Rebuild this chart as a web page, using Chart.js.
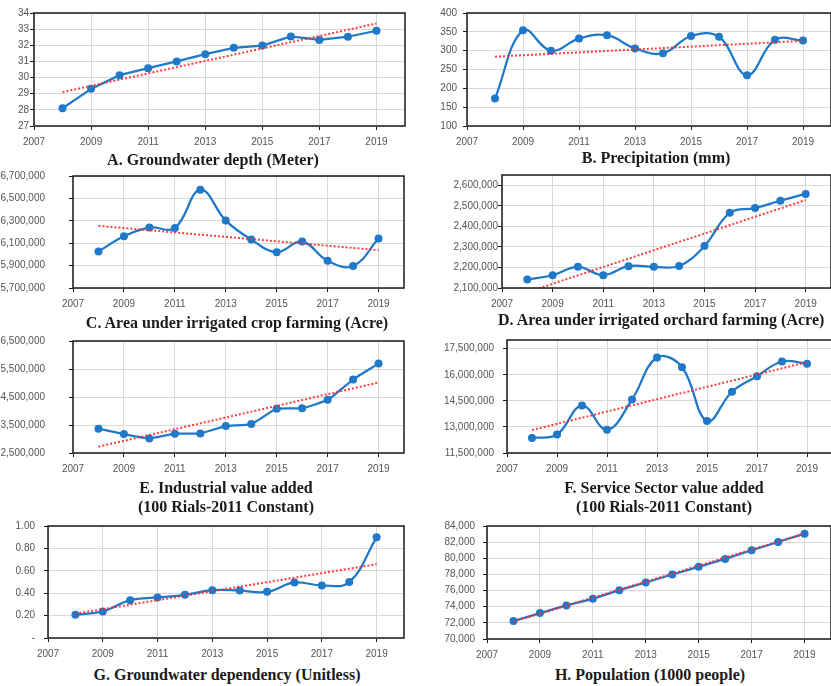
<!DOCTYPE html>
<html>
<head>
<meta charset="utf-8">
<script src="https://cdn.jsdelivr.net/npm/chart.js@4"></script>
<style>
  html, body { margin: 0; padding: 0; background: #fff; overflow: hidden; width: 831px; height: 686px; }
  .panel { position: absolute; }
  .cap { position: absolute; font-family: "Liberation Serif", "Times New Roman", serif; font-weight: bold;
         font-size: 16px; color: #1a1a1a; white-space: nowrap; line-height: 19px; }
</style>
</head>
<body>
<div id="root"></div>
<script>
// Eight small trend charts, 2008-2019
const years = [2008, 2009, 2010, 2011, 2012, 2013, 2014, 2015, 2016, 2017, 2018, 2019];
const yearTicks = [2007, 2009, 2011, 2013, 2015, 2017, 2019];

const gwDepth = [28.1, 29.3, 30.15, 30.58, 31.0, 31.45, 31.84, 31.98, 32.55, 32.33, 32.53, 32.9];
const gwDepthTrend = [29.1, 33.35];
const gwDepthTicks = [27, 28, 29, 30, 31, 32, 33, 34];

const precip = [173, 354, 300, 332, 341, 306, 293, 339, 337, 235, 329, 327];
const precipTrend = [284, 326];
const precipTicks = [100, 150, 200, 250, 300, 350, 400];

const cropArea = [6026000, 6163000, 6240000, 6236000, 6578000, 6302000, 6133000, 6020000, 6115000, 5943000, 5896000, 6142000];
const cropTrend = [6255000, 6038000];
const cropTicks = [5700000, 5900000, 6100000, 6300000, 6500000, 6700000];

const orchardArea = [2141000, 2162000, 2203000, 2162000, 2206000, 2203000, 2207000, 2304000, 2466000, 2489000, 2525000, 2558000];
const orchardTrend = [2080000, 2528000];
const orchardTicks = [2100000, 2200000, 2300000, 2400000, 2500000, 2600000];

const industry = [3367000, 3177000, 3022000, 3190000, 3200000, 3461000, 3533000, 4079000, 4100000, 4399000, 5123000, 5693000];
const industryTrend = [2726000, 5016000];
const industryTicks = [2500000, 3500000, 4500000, 5500000, 6500000];

const service = [12370000, 12565000, 14230000, 12836000, 14578000, 16997000, 16436000, 13339000, 15023000, 15913000, 16765000, 16629000];
const serviceTrend = [12820000, 16726000];
const serviceTicks = [11500000, 13000000, 14500000, 16000000, 17500000];

const dependency = [0.208, 0.237, 0.338, 0.362, 0.386, 0.427, 0.424, 0.412, 0.496, 0.469, 0.499, 0.899];
const dependencyTrend = [0.217, 0.659];
const dependencyTicks = [0, 0.2, 0.4, 0.6, 0.8, 1.0];

const population = [72230, 73210, 74160, 74980, 76050, 77000, 77990, 78940, 79920, 81000, 82020, 83050];
const populationTrend = [72150, 83050];
const populationTicks = [70000, 72000, 74000, 76000, 78000, 80000, 82000, 84000];

const BLUE = '#1f78c8';
const RED = 'rgba(255, 40, 40, 0.9)';
const GRID = '#d9d9d9';
const AXIS = '#1a1a1a';

const fmtInt = v => Math.round(v).toLocaleString('en-US');
const fmtDep = v => (v === 0 ? '-' : v.toFixed(2));

// plot box in page pixels: l, t, r, b ; gap = distance from axis to label end
const panels = [
  { vals: gwDepth, trend: gwDepthTrend, ticks: gwDepthTicks, min: 27, max: 34, fmt: fmtInt, tension: 0,
    box: [34, 13, 405, 126], gap: 5, caption: ['A. Groundwater depth (Meter)'], capX: 213, capY: 150, cx0: 0 },
  { vals: precip, trend: precipTrend, ticks: precipTicks, min: 100, max: 400, fmt: fmtInt, tension: 0.4,
    box: [467, 13, 831, 126], gap: 10, caption: ['B. Precipitation (mm)'], capX: 656, capY: 148, cx0: 415 },
  { vals: cropArea, trend: cropTrend, ticks: cropTicks, min: 5700000, max: 6700000, fmt: fmtInt, tension: 0.4,
    box: [73, 176, 404, 288], gap: 28, caption: ['C. Area under irrigated crop farming (Acre)'], capX: 237, capY: 313, cx0: 0 },
  { vals: orchardArea, trend: orchardTrend, ticks: orchardTicks, min: 2100000, max: 2650000, fmt: fmtInt, tension: 0.4,
    box: [502, 175, 831, 288], gap: 4, caption: ['D. Area under irrigated orchard farming (Acre)'], capLeft: 498, capY: 310, cx0: 415 },
  { vals: industry, trend: industryTrend, ticks: industryTicks, min: 2500000, max: 6500000, fmt: fmtInt, tension: 0.15,
    box: [73, 341, 404, 453], gap: 28, caption: ['E. Industrial value added', '(100 Rials-2011 Constant)'], capX: 226, capY: 478, cx0: 0 },
  { vals: service, trend: serviceTrend, ticks: serviceTicks, min: 11500000, max: 18000000, fmt: fmtInt, tension: 0.4,
    box: [507, 340, 832, 453], gap: 13, caption: ['F. Service Sector value added', '(100 Rials-2011 Constant)'], capX: 664, capY: 478, cx0: 415 },
  { vals: dependency, trend: dependencyTrend, ticks: dependencyTicks, min: 0, max: 1, fmt: fmtDep, tension: 0.4,
    box: [48, 526, 404, 638], gap: 13, caption: ['G. Groundwater dependency (Unitless)'], capX: 227, capY: 665, cx0: 0 },
  { vals: population, trend: populationTrend, ticks: populationTicks, min: 70000, max: 84000, fmt: fmtInt, tension: 0,
    box: [487, 526, 831, 639], gap: 12, caption: ['H. Population (1000 people)'], capX: 650, capY: 665, cx0: 415 }
];

// frame around the plot area
const frame = {
  id: 'frame',
  afterDatasetsDraw(chart) {
    const { ctx, chartArea: a } = chart;
    ctx.save();
    ctx.strokeStyle = AXIS;
    ctx.lineWidth = 1.5;
    ctx.strokeRect(a.left, a.top, a.right - a.left, a.bottom - a.top);
    ctx.restore();
  }
};

const PAD_TOP = 8, X_AXIS_H = 26, PAD_RIGHT = 6;
const root = document.getElementById('root');

panels.forEach(p => {
  const [l, t, r, b] = p.box;
  const yw = l - p.cx0;
  const wrap = document.createElement('div');
  wrap.className = 'panel';
  const w = r - p.cx0 + PAD_RIGHT;
  const h = b - t + PAD_TOP + X_AXIS_H;
  wrap.style.cssText = `left:${p.cx0}px;top:${t - PAD_TOP}px;width:${w}px;height:${h}px;`;
  const cv = document.createElement('canvas');
  wrap.appendChild(cv);
  root.appendChild(wrap);

  p.caption.forEach((line, i) => {
    const c = document.createElement('div');
    c.className = 'cap';
    c.textContent = line;
    if (p.capLeft != null) {
      c.style.left = p.capLeft + 'px';
    } else {
      c.style.left = (p.capX - 300) + 'px';
      c.style.width = '600px';
      c.style.textAlign = 'center';
    }
    c.style.top = (p.capY + i * 19) + 'px';
    root.appendChild(c);
  });

  new Chart(cv, {
    type: 'line',
    data: {
      datasets: [
        {
          data: [{ x: years[0], y: p.trend[0] }, { x: years[years.length - 1], y: p.trend[1] }],
          borderColor: RED, borderWidth: 2, borderDash: [2, 2], pointRadius: 0, tension: 0, order: 0
        },
        {
          data: years.map((x, i) => ({ x, y: p.vals[i] })),
          borderColor: BLUE, backgroundColor: BLUE, borderWidth: 2.25,
          pointRadius: 4, pointBorderWidth: 0, tension: p.tension, order: 1
        }
      ]
    },
    options: {
      responsive: true,
      maintainAspectRatio: false,
      animation: false,
      layout: { padding: { top: PAD_TOP, right: PAD_RIGHT, left: 0, bottom: 0 } },
      plugins: { legend: { display: false }, tooltip: { enabled: false } },
      scales: {
        x: {
          type: 'linear', min: 2007, max: 2020,
          afterBuildTicks: s => { s.ticks = yearTicks.map(v => ({ value: v })); },
          afterFit: s => { s.height = X_AXIS_H; s.paddingLeft = 0; s.paddingRight = 0; },
          grid: { color: GRID, tickColor: AXIS, tickLength: 4 },
          border: { display: false },
          ticks: { color: '#555', padding: 6, maxRotation: 0, font: { family: 'Liberation Sans', size: 10 },
                   callback: v => String(v) }
        },
        y: {
          min: p.min, max: p.max,
          afterBuildTicks: s => { s.ticks = p.ticks.map(v => ({ value: v })); },
          // tick padding would otherwise push the plot area down
          afterFit: s => { s.width = yw; s.paddingTop = 0; s.paddingBottom = 0; },
          grid: { color: GRID, tickColor: AXIS, tickLength: 4 },
          border: { display: false },
          ticks: { color: '#555', padding: p.gap - 4, font: { family: 'Liberation Sans', size: 10 },
                   callback: v => p.fmt(v) }
        }
      }
    },
    plugins: [frame]
  });
});
</script>
</body>
</html>
